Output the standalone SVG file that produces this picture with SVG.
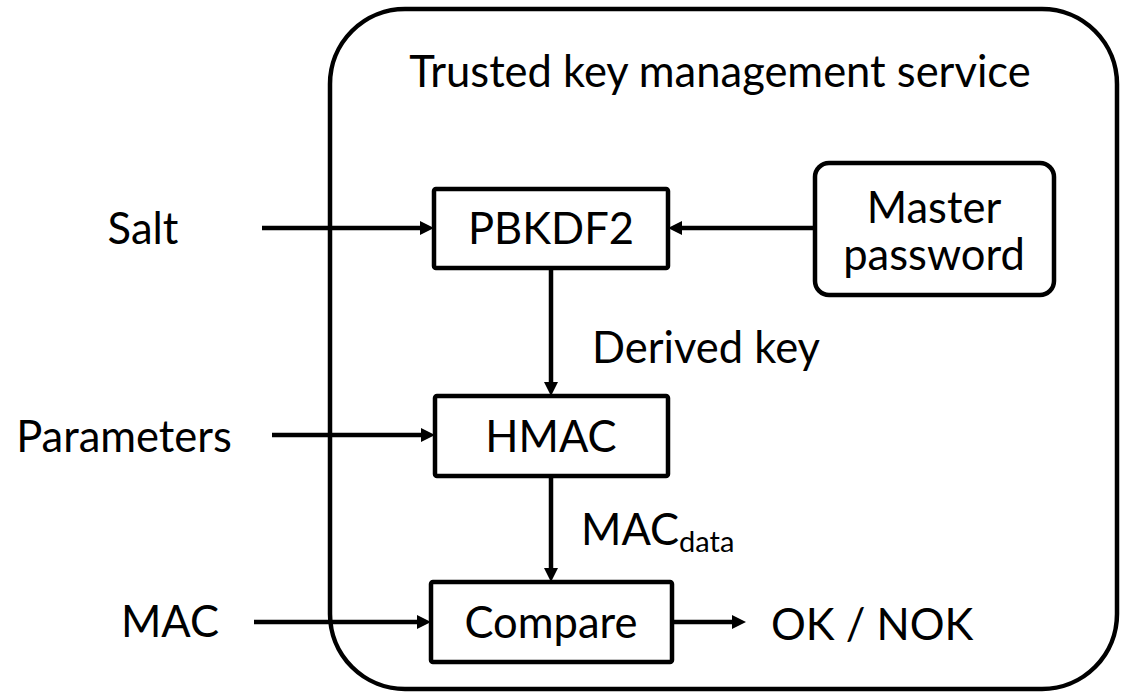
<svg xmlns="http://www.w3.org/2000/svg" width="1126" height="697" viewBox="0 0 1126 697">
  <style>
    .box { fill: #ffffff; stroke: #000000; stroke-width: 4.5; }
    .outer { fill: none; stroke: #000000; stroke-width: 4.5; }
    .t { font-family: Lato, "Open Sans", sans-serif; font-size: 43.5px; fill: #000000; }
    .c { text-anchor: middle; }
    .conn { stroke: #000000; stroke-width: 4.5; fill: none; marker-end: url(#arrow); }
  </style>
  <defs>
    <marker id="arrow" markerUnits="userSpaceOnUse" markerWidth="15" markerHeight="15" refX="0" refY="7" orient="auto" viewBox="0 0 15 14">
      <path d="M0,0 L14,7 L0,14 z" fill="#000000"/>
    </marker>
  </defs>
  <rect width="1126" height="697" fill="#ffffff"/>

  <g id="service">
    <rect class="outer" x="330" y="9" width="787" height="680" rx="75" ry="75"/>
    <text class="t c" x="720" y="87">Trusted key management service</text>
  </g>

  <g id="connectors">
    <line class="conn" x1="262" y1="228" x2="420" y2="228"/>
    <line class="conn" x1="815" y1="228" x2="682" y2="228"/>
    <line class="conn" x1="551" y1="268" x2="551" y2="382"/>
    <line class="conn" x1="272" y1="435" x2="421" y2="435"/>
    <line class="conn" x1="551" y1="476" x2="551" y2="568"/>
    <line class="conn" x1="254" y1="622" x2="417" y2="622"/>
    <line class="conn" x1="672" y1="622" x2="732" y2="622"/>
  </g>

  <g id="salt">
    <text class="t c" x="143" y="244">Salt</text>
  </g>
  <g id="parameters">
    <text class="t c" x="124" y="452">Parameters</text>
  </g>
  <g id="mac">
    <text class="t c" x="170" y="637">MAC</text>
  </g>

  <g id="pbkdf2">
    <rect class="box" x="434" y="189" width="234" height="79" rx="2"/>
    <text class="t c" x="551" y="244">PBKDF2</text>
  </g>
  <g id="master-password">
    <rect class="box" x="815" y="163" width="239" height="132" rx="14"/>
    <text class="t c" x="934" y="223">Master</text>
    <text class="t c" x="934" y="270">password</text>
  </g>
  <g id="derived-key-label">
    <text class="t" x="592" y="363">Derived key</text>
  </g>
  <g id="hmac">
    <rect class="box" x="435" y="396" width="233" height="80" rx="2"/>
    <text class="t c" x="551" y="452">HMAC</text>
  </g>
  <g id="macdata-label">
    <text class="t" x="581" y="545">MAC<tspan font-size="29px" dy="7">data</tspan></text>
  </g>
  <g id="compare">
    <rect class="box" x="431" y="582" width="241" height="80" rx="2"/>
    <text class="t c" x="551" y="638">Compare</text>
  </g>
  <g id="result">
    <text class="t" x="771" y="640">OK / NOK</text>
  </g>
</svg>
